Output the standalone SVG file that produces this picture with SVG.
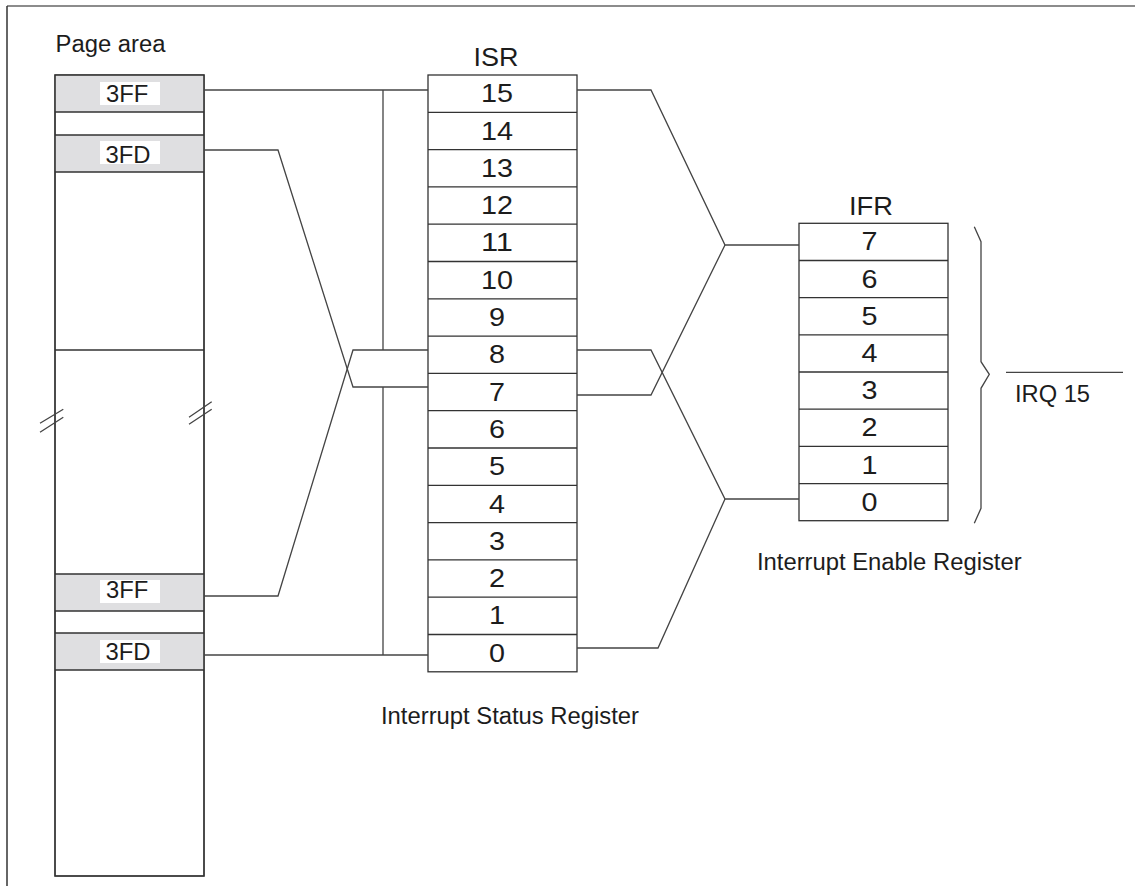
<svg xmlns="http://www.w3.org/2000/svg" width="1135" height="886" viewBox="0 0 1135 886">
<style>
  .box { fill: #ffffff; stroke: #333333; stroke-width: 1.3; }
  .gray { fill: #dfdfe1; stroke: none; }
  .sep { stroke: #333333; stroke-width: 1.3; fill: none; }
  .wire { stroke: #444444; stroke-width: 1.3; fill: none; }
  .lbl { font-family: "Liberation Sans", Arial, sans-serif; fill: #1c1c1c; }
  .s20 { font-size: 23px; }
  .s23 { font-size: 25px; }
  .cell { font-size: 23.5px; }
  .d { font-size: 26px; text-anchor: middle; }
  .mid { text-anchor: middle; }
  .tag { fill: #ffffff; stroke: none; }
</style>
<rect x="0" y="0" width="1135" height="886" fill="#ffffff"/>
<g id="frame">
  <line x1="7" y1="6" x2="1135" y2="6" stroke="#8c8c8c" stroke-width="2"/>
  <line x1="7" y1="6" x2="7" y2="886" stroke="#333333" stroke-width="1.5"/>
</g>

<g id="page-area">
  <text class="lbl s20" x="55.5" y="51.5" textLength="110" lengthAdjust="spacingAndGlyphs">Page area</text>
  <rect class="box" x="55" y="75" width="149" height="801"/>
  <rect class="gray" x="55.7" y="75.7" width="147.6" height="36.3"/>
  <rect class="gray" x="55.7" y="135" width="147.6" height="37"/>
  <rect class="gray" x="55.7" y="574" width="147.6" height="37"/>
  <rect class="gray" x="55.7" y="633" width="147.6" height="37"/>
  <path class="sep" d="M55,112 H204 M55,135 H204 M55,172 H204 M55,350 H204 M55,574 H204 M55,611 H204 M55,633 H204 M55,670 H204"/>
  <rect class="box" x="55" y="75" width="149" height="801" style="fill:none"/>
  <g id="cell-3ff-top">
    <rect class="tag" x="100" y="82" width="60" height="23"/>
    <text class="lbl cell" x="106" y="101.5" textLength="42.3" lengthAdjust="spacingAndGlyphs">3FF</text>
  </g>
  <g id="cell-3fd-top">
    <rect class="tag" x="100" y="141" width="60" height="23"/>
    <text class="lbl cell" x="105.5" y="163" textLength="45" lengthAdjust="spacingAndGlyphs">3FD</text>
  </g>
  <g id="cell-3ff-bottom">
    <rect class="tag" x="100" y="580" width="60" height="23"/>
    <text class="lbl cell" x="106" y="598" textLength="42.3" lengthAdjust="spacingAndGlyphs">3FF</text>
  </g>
  <g id="cell-3fd-bottom">
    <rect class="tag" x="100" y="640" width="60" height="23"/>
    <text class="lbl cell" x="105.5" y="659.5" textLength="45" lengthAdjust="spacingAndGlyphs">3FD</text>
  </g>
  <g id="break-marks">
    <path class="wire" d="M40,423.3 L63.3,409.3 M40,432.3 L63.3,417.3 M189,417.3 L211.7,401.7 M189,424.3 L211.7,409.3"/>
  </g>
</g>

<g id="isr">
  <text class="lbl s23 mid" x="496" y="66" textLength="45" lengthAdjust="spacingAndGlyphs">ISR</text>
  <rect class="box" x="428" y="75" width="149" height="596.8"/>
  <path class="sep" d="M428,112.3 H577 M428,149.6 H577 M428,186.9 H577 M428,224.2 H577 M428,261.5 H577 M428,298.8 H577 M428,336.1 H577 M428,373.4 H577 M428,410.7 H577 M428,448 H577 M428,485.3 H577 M428,522.6 H577 M428,559.9 H577 M428,597.2 H577 M428,634.5 H577"/>
  <g class="lbl">
    <text class="d" x="497" y="102.2" textLength="32" lengthAdjust="spacingAndGlyphs">15</text>
    <text class="d" x="497" y="139.5" textLength="32" lengthAdjust="spacingAndGlyphs">14</text>
    <text class="d" x="497" y="176.8" textLength="32" lengthAdjust="spacingAndGlyphs">13</text>
    <text class="d" x="497" y="214.1" textLength="32" lengthAdjust="spacingAndGlyphs">12</text>
    <text class="d" x="497" y="251.4" textLength="32" lengthAdjust="spacingAndGlyphs">11</text>
    <text class="d" x="497" y="288.7" textLength="32" lengthAdjust="spacingAndGlyphs">10</text>
    <text class="d" x="497" y="326" textLength="16" lengthAdjust="spacingAndGlyphs">9</text>
    <text class="d" x="497" y="363.3" textLength="16" lengthAdjust="spacingAndGlyphs">8</text>
    <text class="d" x="497" y="400.6" textLength="16" lengthAdjust="spacingAndGlyphs">7</text>
    <text class="d" x="497" y="437.9" textLength="16" lengthAdjust="spacingAndGlyphs">6</text>
    <text class="d" x="497" y="475.2" textLength="16" lengthAdjust="spacingAndGlyphs">5</text>
    <text class="d" x="497" y="512.5" textLength="16" lengthAdjust="spacingAndGlyphs">4</text>
    <text class="d" x="497" y="549.8" textLength="16" lengthAdjust="spacingAndGlyphs">3</text>
    <text class="d" x="497" y="587.1" textLength="16" lengthAdjust="spacingAndGlyphs">2</text>
    <text class="d" x="497" y="624.4" textLength="16" lengthAdjust="spacingAndGlyphs">1</text>
    <text class="d" x="497" y="661.7" textLength="16" lengthAdjust="spacingAndGlyphs">0</text>
  </g>
  <text class="lbl s20" x="381" y="724" textLength="258" lengthAdjust="spacingAndGlyphs">Interrupt Status Register</text>
</g>

<g id="ifr">
  <text class="lbl s23 mid" x="871" y="215" textLength="44" lengthAdjust="spacingAndGlyphs">IFR</text>
  <rect class="box" x="799" y="223.3" width="149" height="297.4"/>
  <path class="sep" d="M799,260.5 H948 M799,297.7 H948 M799,334.9 H948 M799,372 H948 M799,409.2 H948 M799,446.4 H948 M799,483.6 H948"/>
  <g class="lbl">
    <text class="d" x="869.5" y="250.4" textLength="16" lengthAdjust="spacingAndGlyphs">7</text>
    <text class="d" x="869.5" y="287.6" textLength="16" lengthAdjust="spacingAndGlyphs">6</text>
    <text class="d" x="869.5" y="324.8" textLength="16" lengthAdjust="spacingAndGlyphs">5</text>
    <text class="d" x="869.5" y="362" textLength="16" lengthAdjust="spacingAndGlyphs">4</text>
    <text class="d" x="869.5" y="399.1" textLength="16" lengthAdjust="spacingAndGlyphs">3</text>
    <text class="d" x="869.5" y="436.3" textLength="16" lengthAdjust="spacingAndGlyphs">2</text>
    <text class="d" x="869.5" y="473.5" textLength="16" lengthAdjust="spacingAndGlyphs">1</text>
    <text class="d" x="869.5" y="510.7" textLength="16" lengthAdjust="spacingAndGlyphs">0</text>
  </g>
  <text class="lbl s20" x="757" y="569.5" textLength="264.6" lengthAdjust="spacingAndGlyphs">Interrupt Enable Register</text>
</g>

<g id="irq15">
  <path class="wire" d="M974.3,226.7 L981,241.7 V361.7 L989.3,374.3 L981,388.3 V508.3 L974.3,523.3"/>
  <line class="wire" x1="1006" y1="372.3" x2="1123" y2="372.3"/>
  <text class="lbl s20" x="1015" y="402" textLength="75" lengthAdjust="spacingAndGlyphs">IRQ 15</text>
</g>

<g id="connectors">
  <path class="wire" d="M204,90 H428"/>
  <path class="wire" d="M383,90 V350 M383,387 V655"/>
  <path class="wire" d="M204,655 H428"/>
  <path class="wire" d="M204,150 H278 L353,387 H428"/>
  <path class="wire" d="M204,596 H278 L353,350 H428"/>
  <path class="wire" d="M577,90 H651 L725,245 H799"/>
  <path class="wire" d="M577,350 H651 L725,499 H799"/>
  <path class="wire" d="M577,395 H651 L725,245"/>
  <path class="wire" d="M577,648 H658 L725,499"/>
</g>
</svg>
